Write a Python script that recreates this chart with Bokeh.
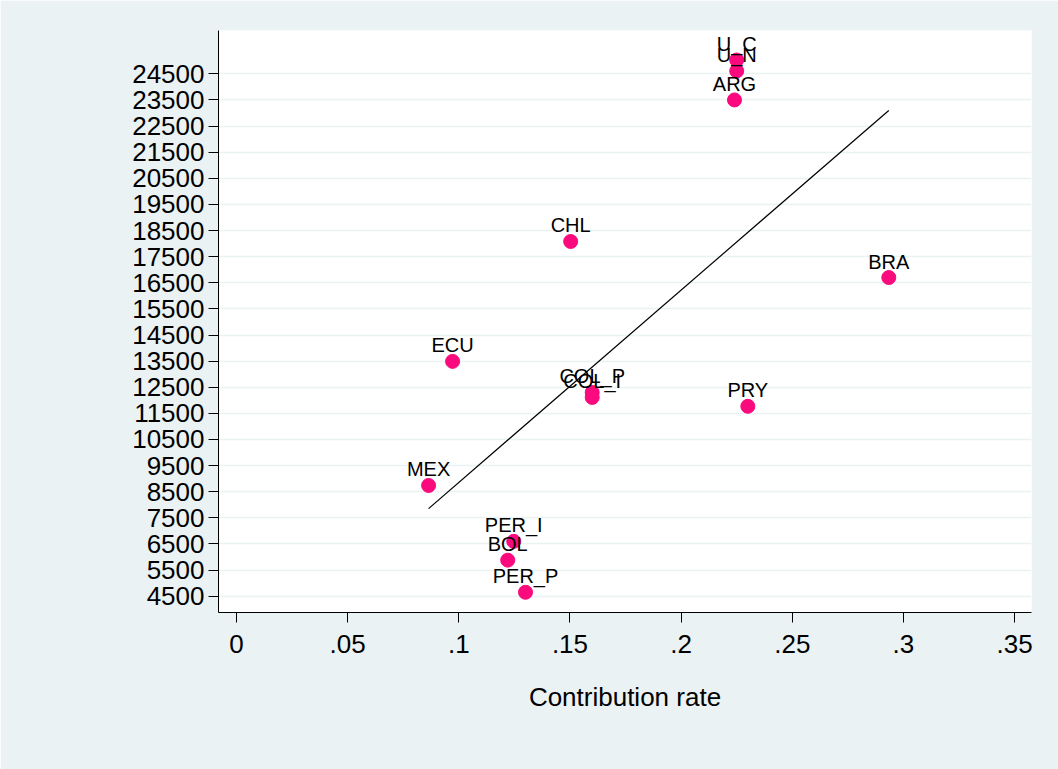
import numpy as np
from bokeh.plotting import figure
from bokeh.models import ColumnDataSource, FixedTicker, Range1d
from bokeh.core.properties import value
from bokeh.embed import file_html
from bokeh.resources import INLINE

# Data
countries = ["U_C", "U_N", "ARG", "CHL", "BRA", "ECU", "COL_P", "COL_I",
             "PRY", "MEX", "PER_I", "BOL", "PER_P"]
contribution_rate = [0.225, 0.225, 0.224, 0.1503, 0.2934, 0.0972, 0.160, 0.160,
                     0.230, 0.0864, 0.1247, 0.122, 0.130]
outcome = [25030, 24610, 23500, 18080, 16700, 13490, 12300, 12110,
           11770, 8740, 6600, 5880, 4650]

x_ticks = [0, 0.05, 0.1, 0.15, 0.2, 0.25, 0.3, 0.35]
x_tick_labels = ["0", ".05", ".1", ".15", ".2", ".25", ".3", ".35"]
y_ticks = list(range(4500, 25500, 1000))
y_tick_labels = [str(v) for v in y_ticks]
x_title = "Contribution rate"

# Linear fit (OLS) across the data range
slope, intercept = np.polyfit(contribution_rate, outcome, 1)
fit_x = [min(contribution_rate), max(contribution_rate)]
fit_y = [intercept + slope * v for v in fit_x]

FONT = "Liberation Sans"
BG = "#eaf2f3"

p = figure(width=1058, height=769, output_backend="svg", toolbar_location=None,
           x_range=Range1d(-0.0081, 0.3576), y_range=Range1d(3876, 26158),
           min_border_left=218, min_border_right=27, min_border_top=30,
           min_border_bottom=157)
p.border_fill_color = BG
p.background_fill_color = "white"
p.outline_line_color = None

p.line(fit_x, fit_y, line_color="black", line_width=1.2)

src = ColumnDataSource(dict(x=contribution_rate, y=outcome, name=countries))
p.scatter("x", "y", source=src, size=14, fill_color="#fa0a7d", line_color="#fa0a7d")
p.text("x", "y", text="name", source=src, text_align="center",
       text_baseline="alphabetic", y_offset=-16, text_font=value(FONT),
       text_font_size="20px", text_color="black")

p.xaxis.ticker = FixedTicker(ticks=x_ticks)
p.xaxis.major_label_overrides = {t: l for t, l in zip(x_ticks, x_tick_labels)}
p.yaxis.ticker = FixedTicker(ticks=y_ticks)
p.yaxis.major_label_overrides = {t: l for t, l in zip(y_ticks, y_tick_labels)}
p.xaxis.axis_label = x_title

for ax in (p.xaxis, p.yaxis):
    ax.axis_line_color = "black"
    ax.axis_line_width = 1
    ax.major_tick_line_color = "black"
    ax.major_tick_in = 0
    ax.major_tick_out = 10
    ax.minor_tick_line_color = None
    ax.major_label_text_font = FONT
    ax.major_label_text_font_size = "26px"
    ax.major_label_text_color = "black"
    ax.major_label_standoff = 4

p.xaxis.major_label_standoff = 12
p.xaxis.axis_label_text_font = FONT
p.xaxis.axis_label_text_font_size = "26px"
p.xaxis.axis_label_text_font_style = "normal"
p.xaxis.axis_label_text_color = "black"
p.xaxis.axis_label_standoff = 26
p.yaxis.major_label_orientation = "horizontal"

p.xgrid.grid_line_color = None
p.ygrid.grid_line_color = BG
p.ygrid.grid_line_width = 1.5

open("out.html", "w").write(file_html(p, INLINE))
